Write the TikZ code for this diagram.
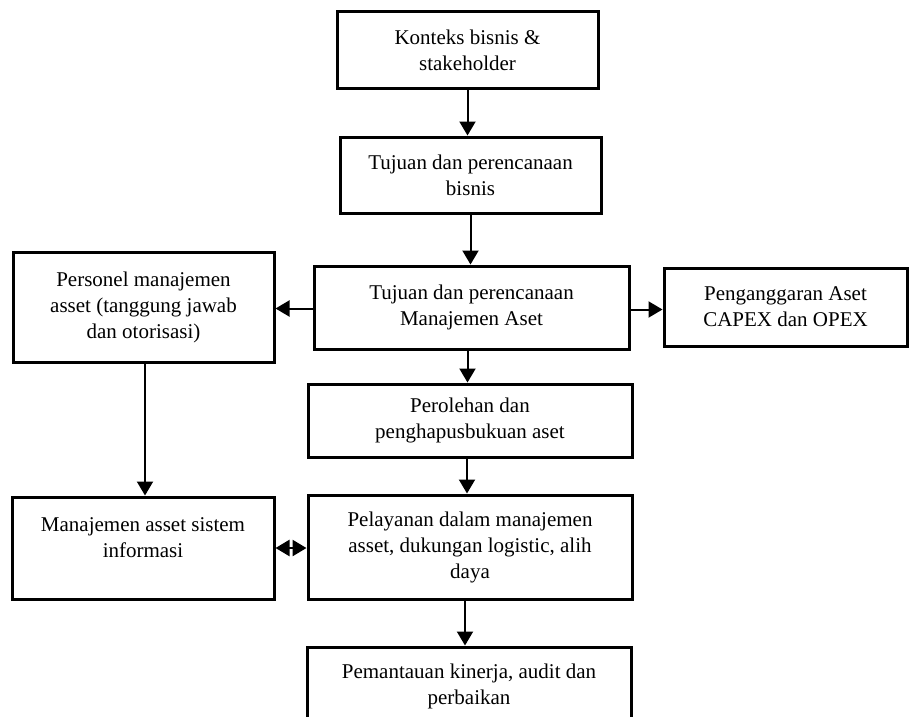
\documentclass[tikz,border=0pt]{standalone}
\usepackage{fontspec}
\setmainfont{Liberation Serif}
\usetikzlibrary{arrows.meta}
\begin{document}
\begin{tikzpicture}[x=1pt,y=-1pt,
  box/.style={draw=black, line width=3pt, rectangle, align=center, inner sep=0pt,
    font=\fontsize{21}{26}\selectfont},
  plain/.style={align=center, inner sep=0pt, font=\fontsize{21}{26}\selectfont},
  arr/.style={line width=2pt, -{Triangle[length=14pt,width=16pt]}},
  darr/.style={line width=2.5pt, {Triangle[length=14pt,width=16pt]}-{Triangle[length=14pt,width=16pt]}}]
\clip (0,0) rectangle (910,717);
\fill[white] (0,0) rectangle (910,717);
\node[box, minimum width=261pt, minimum height=76pt] (b1) at (467.5,50) {Konteks bisnis \&\\stakeholder};
\node[box, minimum width=261pt, minimum height=76pt] (b2) at (470.5,175) {Tujuan dan perencanaan\\bisnis};
\node[box, minimum width=315pt, minimum height=83pt] (b3) at (471.5,307.5) {Tujuan dan perencanaan\\Manajemen Aset};
\node[box, minimum width=261pt, minimum height=110pt] (pers) at (143.5,307) {Personel manajemen\\asset (tanggung jawab\\dan otorisasi)};
\node[box, minimum width=243pt, minimum height=78pt] (bud) at (785.5,307) {Penganggaran Aset\\CAPEX dan OPEX};
\node[box, minimum width=324pt, minimum height=73pt] (acq) at (470,420.5) {Perolehan dan\\penghapusbukuan aset};
\node[box, minimum width=324pt, minimum height=104pt] (serv) at (470,547) {Pelayanan dalam manajemen\\asset, dukungan logistic, alih\\daya};
\node[box, minimum width=262pt, minimum height=102pt] (info) at (143,548) {};
\node[plain] (infotext) at (143,538) {Manajemen asset sistem\\informasi};
\node[box, minimum width=324pt, minimum height=78pt] (mon) at (469,686) {Pemantauan kinerja, audit dan\\perbaikan};
\draw[arr] (b1.south) -- (b1.south |- b2.north);
\draw[arr] (b2.south) -- (b2.south |- b3.north);
\draw[arr] ([xshift=-4pt]b3.south) -- ([xshift=-4pt]b3.south |- acq.north);
\draw[arr] ([xshift=-3pt]acq.south) -- ([xshift=-3pt]acq.south |- serv.north);
\draw[arr] ([xshift=-5pt]serv.south) -- ([xshift=-5pt]serv.south |- mon.north);
\draw[arr] ([yshift=-1pt]b3.west) -- ([yshift=-1pt]b3.west -| pers.east);
\draw[arr] ([yshift=-2pt]b3.east) -- ([yshift=-2pt]b3.east -| bud.west);
\draw[arr] ([xshift=1.5pt]pers.south) -- ([xshift=1.5pt]pers.south |- info.north);
\draw[darr] (info.east) -- (info.east -| serv.west);
\end{tikzpicture}
\end{document}
